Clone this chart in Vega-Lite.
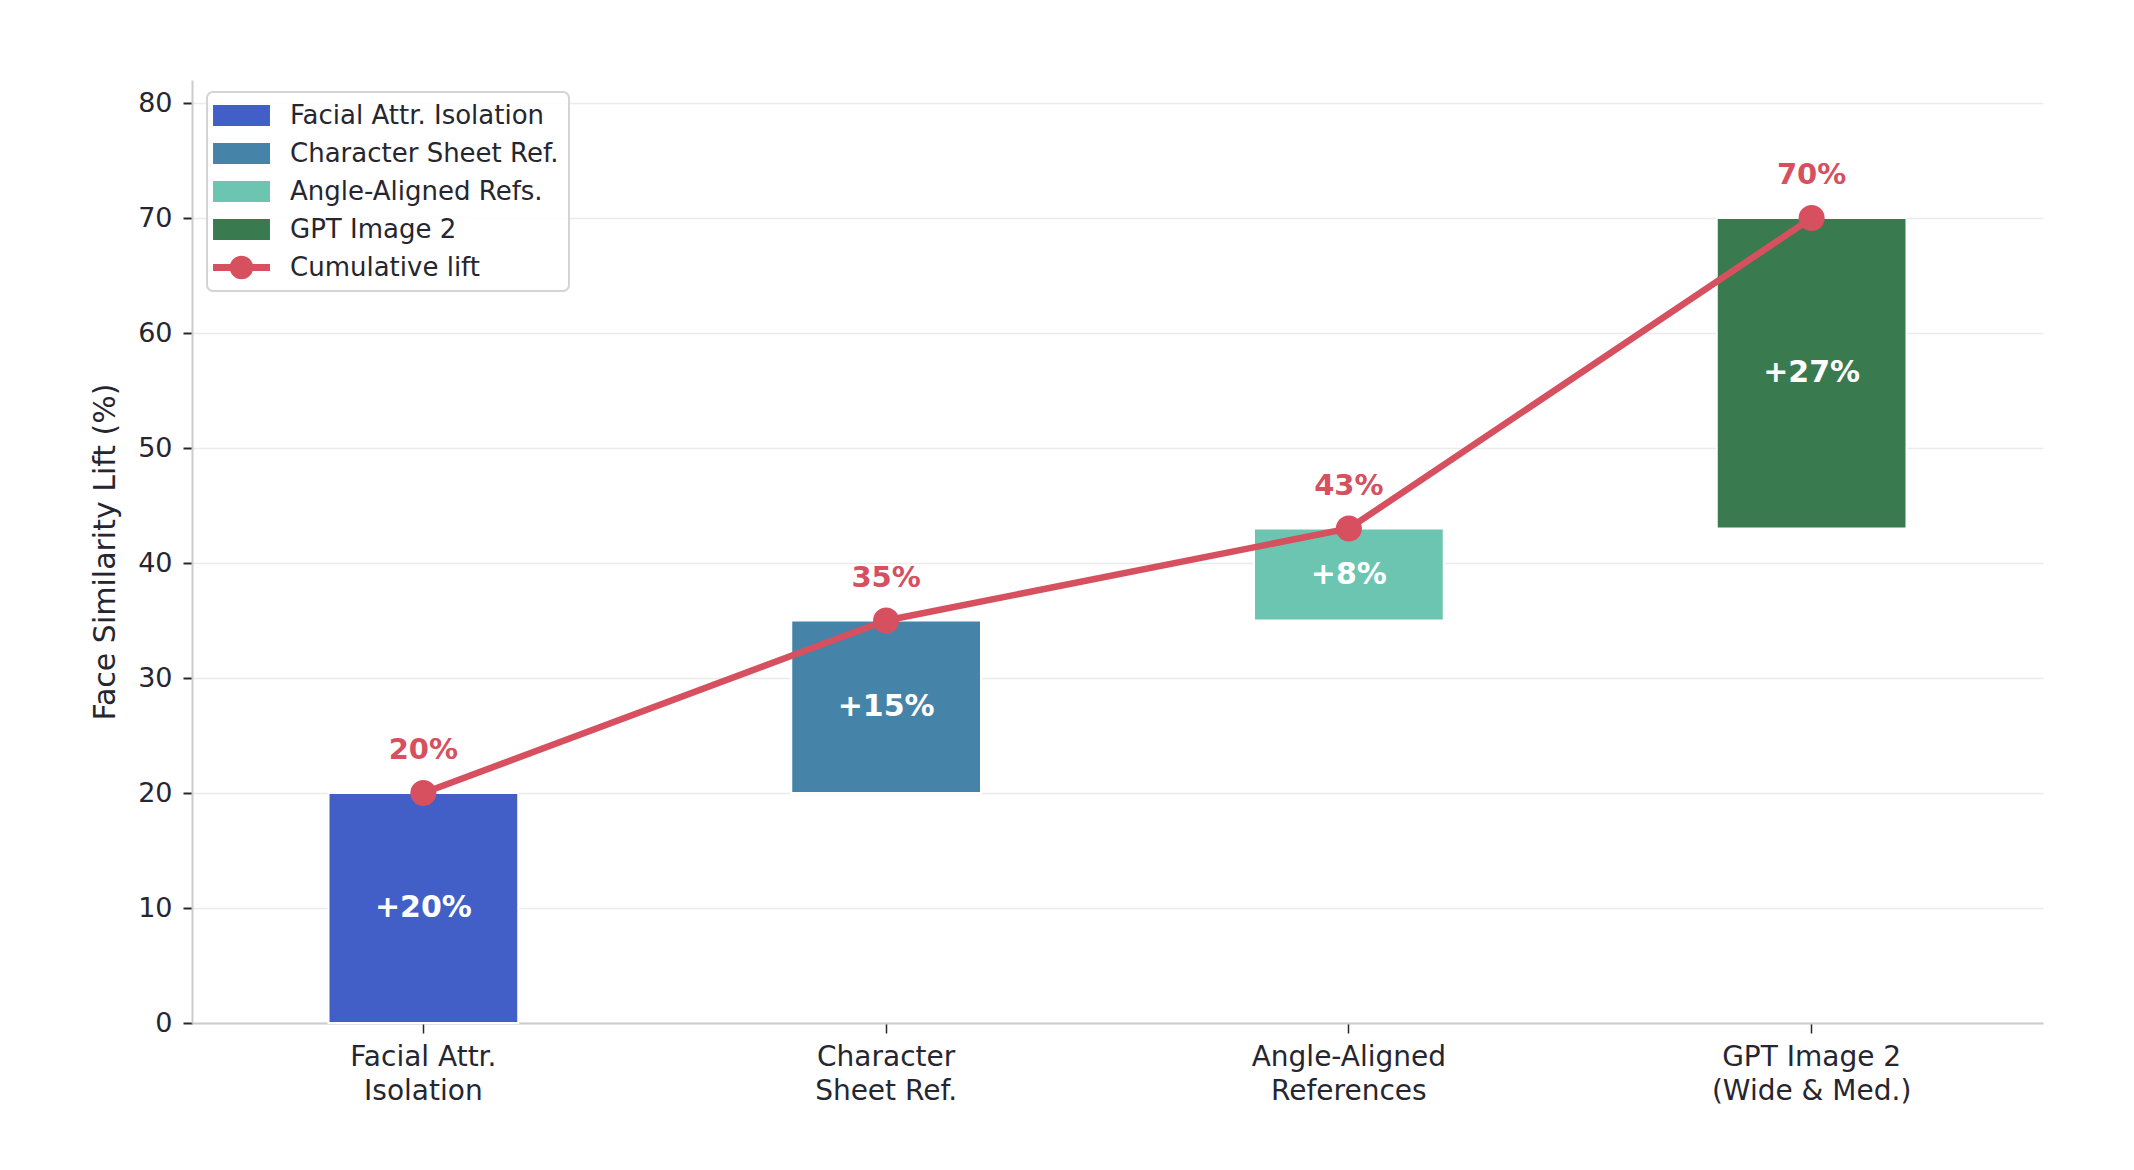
{
  "$schema": "https://vega.github.io/schema/vega-lite/v6.json",
  "description": "Waterfall of face similarity lift by technique, with cumulative line.",
  "width": 1851,
  "height": 943,
  "autosize": {"type": "none"},
  "padding": {"left": 192, "top": 80, "right": 91, "bottom": 147},
  "background": "white",
  "config": {
    "view": {"stroke": null},
    "font": "DejaVu Sans",
    "legend": {
      "orient": "none",
      "legendX": 15,
      "legendY": 12,
      "padding": 10.5,
      "rowPadding": 12,
      "symbolSize": 676,
      "symbolOffset": 11,
      "symbolStrokeWidth": 0,
      "symbolOpacity": 1,
      "labelOffset": 35.5,
      "labelFont": "DejaVu Sans",
      "labelFontSize": 26,
      "labelColor": "#262630",
      "labelLimit": 500,
      "fillColor": "rgba(255,255,255,0.85)",
      "strokeColor": "#d4d4d4",
      "cornerRadius": 6
    }
  },
  "data": {
    "values": [
      {"step": "Facial Attr. Isolation", "axis_label": "Facial Attr.\nIsolation", "start": 0, "end": 20, "lift_label": "+20%", "total_label": "20%"},
      {"step": "Character Sheet Ref.", "axis_label": "Character\nSheet Ref.", "start": 20, "end": 35, "lift_label": "+15%", "total_label": "35%"},
      {"step": "Angle-Aligned Refs.", "axis_label": "Angle-Aligned\nReferences", "start": 35, "end": 43, "lift_label": "+8%", "total_label": "43%"},
      {"step": "GPT Image 2", "axis_label": "GPT Image 2\n(Wide & Med.)", "start": 43, "end": 70, "lift_label": "+27%", "total_label": "70%"}
    ]
  },
  "transform": [{"calculate": "(datum.start + datum.end) / 2", "as": "mid"}],
  "encoding": {
    "x": {
      "field": "axis_label",
      "type": "nominal",
      "sort": null,
      "scale": {"paddingInner": 0, "paddingOuter": 0},
      "axis": {
        "title": null,
        "labelAngle": 0,
        "labelExpr": "split(datum.value, '\\n')",
        "labelFont": "DejaVu Sans",
        "labelFontSize": 28,
        "labelLineHeight": 34,
        "labelLimit": 500,
        "labelColor": "#262630",
        "labelPadding": 10,
        "tickColor": "#262630",
        "tickSize": 10,
        "tickWidth": 1.5,
        "domainColor": "#cccccc",
        "domainWidth": 2,
        "grid": false
      }
    }
  },
  "layer": [
    {
      "mark": {"type": "bar", "width": {"band": 0.41}, "stroke": "white", "strokeWidth": 2},
      "encoding": {
        "y": {
          "field": "end",
          "type": "quantitative",
          "title": "Face Similarity Lift (%)",
          "scale": {"domain": [0, 82], "nice": false},
          "axis": {
            "values": [0, 10, 20, 30, 40, 50, 60, 70, 80],
            "labelFont": "DejaVu Sans",
            "labelFontSize": 27,
            "labelColor": "#262630",
            "labelPadding": 11,
            "tickColor": "#262630",
            "tickSize": 9,
            "tickWidth": 2,
            "domainColor": "#cccccc",
            "domainWidth": 2,
            "gridColor": "#ebebeb",
            "gridWidth": 1.5,
            "titleFont": "DejaVu Sans",
            "titleFontSize": 30,
            "titleFontWeight": "normal",
            "titleColor": "#262630",
            "titlePadding": 17
          }
        },
        "y2": {"field": "start"},
        "color": {
          "field": "step",
          "type": "nominal",
          "scale": {
            "domain": ["Facial Attr. Isolation", "Character Sheet Ref.", "Angle-Aligned Refs.", "GPT Image 2", "Cumulative lift"],
            "range": ["#425fc7", "#4683a9", "#6cc5b0", "#3a7a4f", "#d6505f"]
          },
          "legend": {
            "title": null,
            "encode": {
              "legend": {"update": {"strokeWidth": {"value": 2}}},
              "symbols": {
                "update": {
                  "shape": {"signal": "datum.value === 'Cumulative lift' ? 'M-2.19,-0.27H2.19V0.27H-2.19Z M0,-0.91A0.91,0.91 0 1,1 0,0.91A0.91,0.91 0 1,1 0,-0.91Z' : 'M-2.19,-0.81H2.19V0.81H-2.19Z'"},
                  "fill": {"signal": "scale('color', datum.value)"},
                  "strokeWidth": {"value": 0}
                }
              }
            }
          }
        }
      }
    },
    {
      "mark": {"type": "text", "font": "DejaVu Sans", "fontSize": 30, "fontWeight": "bold", "color": "white", "baseline": "middle"},
      "encoding": {
        "y": {"field": "mid", "type": "quantitative", "title": "Face Similarity Lift (%)"},
        "text": {"field": "lift_label"}
      }
    },
    {
      "mark": {"type": "line", "strokeWidth": 6.5},
      "encoding": {
        "y": {"field": "end", "type": "quantitative", "title": "Face Similarity Lift (%)"},
        "color": {
          "datum": "Cumulative lift",
          "type": "nominal",
          "legend": {
            "title": null,
            "encode": {
              "legend": {"update": {"strokeWidth": {"value": 2}}},
              "symbols": {
                "update": {
                  "shape": {"signal": "datum.value === 'Cumulative lift' ? 'M-2.19,-0.27H2.19V0.27H-2.19Z M0,-0.91A0.91,0.91 0 1,1 0,0.91A0.91,0.91 0 1,1 0,-0.91Z' : 'M-2.19,-0.81H2.19V0.81H-2.19Z'"},
                  "fill": {"signal": "scale('color', datum.value)"},
                  "strokeWidth": {"value": 0}
                }
              }
            }
          }
        }
      }
    },
    {
      "mark": {"type": "point", "filled": true, "size": 680, "opacity": 1},
      "encoding": {
        "y": {"field": "end", "type": "quantitative", "title": "Face Similarity Lift (%)"},
        "color": {
          "datum": "Cumulative lift",
          "type": "nominal",
          "legend": {
            "title": null,
            "encode": {
              "legend": {"update": {"strokeWidth": {"value": 2}}},
              "symbols": {
                "update": {
                  "shape": {"signal": "datum.value === 'Cumulative lift' ? 'M-2.19,-0.27H2.19V0.27H-2.19Z M0,-0.91A0.91,0.91 0 1,1 0,0.91A0.91,0.91 0 1,1 0,-0.91Z' : 'M-2.19,-0.81H2.19V0.81H-2.19Z'"},
                  "fill": {"signal": "scale('color', datum.value)"},
                  "strokeWidth": {"value": 0}
                }
              }
            }
          }
        }
      }
    },
    {
      "mark": {"type": "text", "font": "DejaVu Sans", "fontSize": 29, "fontWeight": "bold", "color": "#d6505f", "baseline": "middle", "dy": -43},
      "encoding": {
        "y": {"field": "end", "type": "quantitative", "title": "Face Similarity Lift (%)"},
        "text": {"field": "total_label"}
      }
    }
  ]
}
